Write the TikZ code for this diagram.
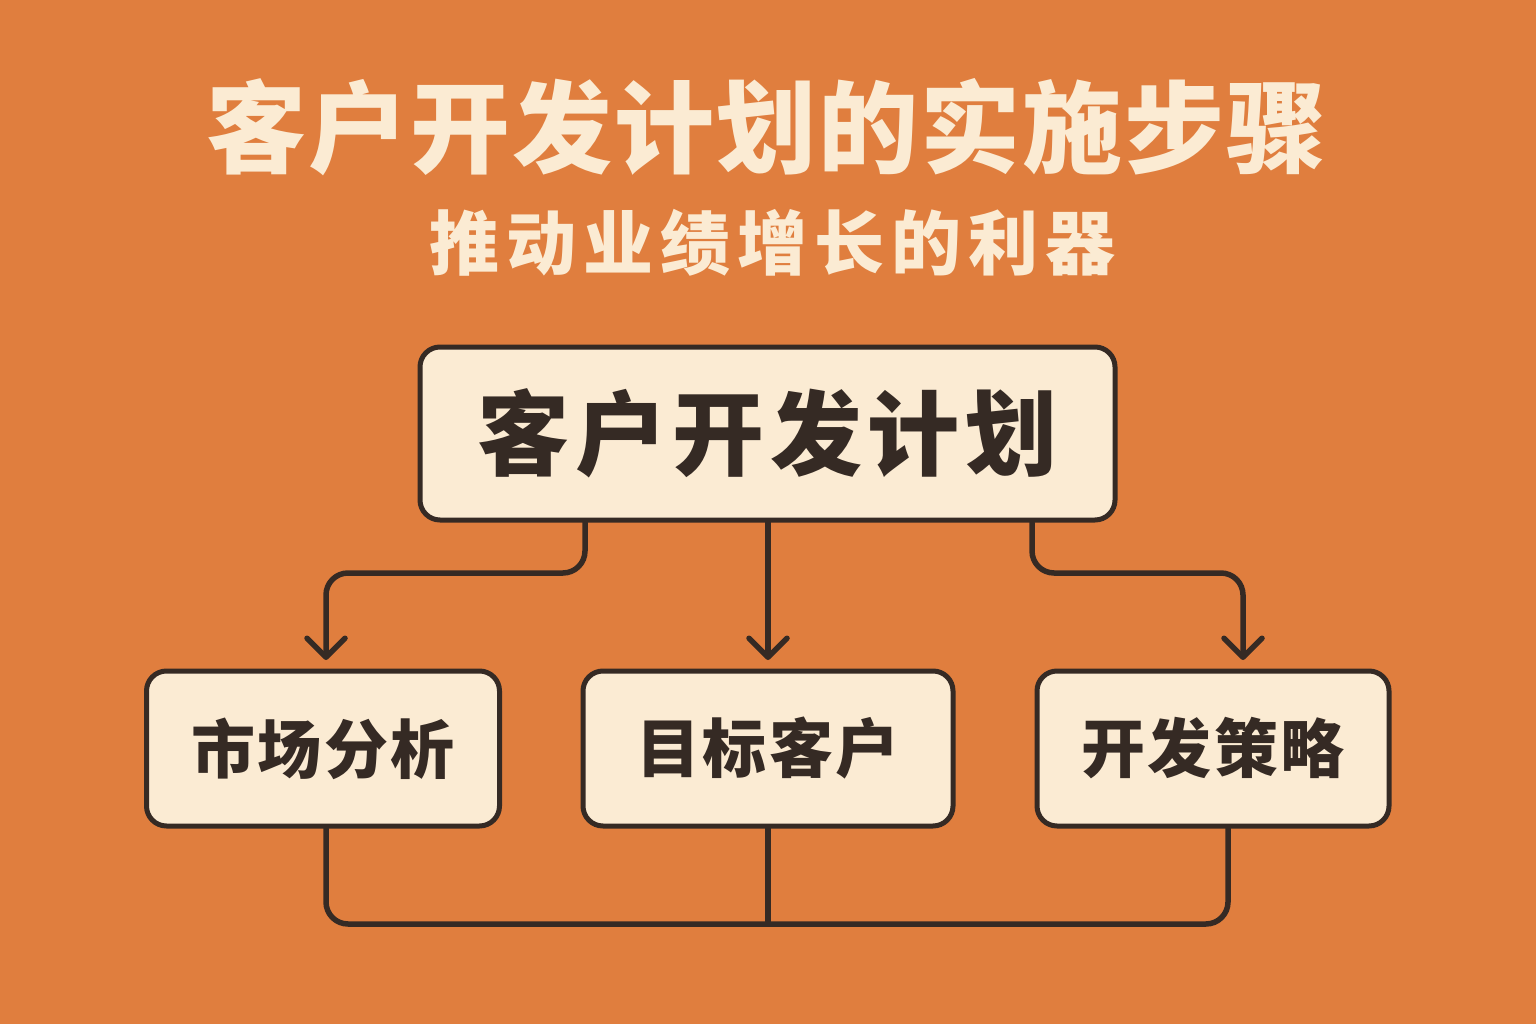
\documentclass[tikz,border=0pt]{standalone}
\usepackage{fontspec}
\usetikzlibrary{arrows.meta}
\newfontfamily\cjk{Noto Sans CJK SC}
\definecolor{bgorange}{HTML}{E07E3E}
\definecolor{cream}{HTML}{FBEBD3}
\definecolor{ink}{HTML}{352A24}
\tikzset{
  boxstyle/.style={draw=ink, fill=cream, line width=5pt, rounded corners=20pt, inner sep=0pt, text=ink, font=\cjk\bfseries},
  conn/.style={draw=ink, line width=5.5pt, line cap=round, line join=round, rounded corners=22pt},
  arrowconn/.style={conn, -{Straight Barb[length=19pt,width=38pt,line cap=round,line join=round]}},
}
\begin{document}
\begin{tikzpicture}[x=1pt,y=-1pt]
\fill[bgorange] (0,0) rectangle (1536,1024);
\useasboundingbox (0,0) rectangle (1536,1024);

\node[text=cream, font=\cjk\bfseries\fontsize{100}{110}\selectfont\addfontfeature{LetterSpace=2}] (title) at (766,127) {客户开发计划的实施步骤};
\node[text=cream, font=\cjk\bfseries\fontsize{70}{80}\selectfont\addfontfeature{LetterSpace=10}] (sub) at (772,243) {推动业绩增长的利器};

\node[boxstyle, minimum width=695pt, minimum height=173pt, font=\cjk\bfseries\fontsize{92}{100}\selectfont\addfontfeature{LetterSpace=6}] (top) at (767.5,433.5) {客户开发计划};

\node[boxstyle, minimum width=353pt, minimum height=155pt, font=\cjk\bfseries\fontsize{64}{72}\selectfont\addfontfeature{LetterSpace=4}] (b1) at (323,748.5) {市场分析};
\node[boxstyle, minimum width=370pt, minimum height=155pt, font=\cjk\bfseries\fontsize{64}{72}\selectfont\addfontfeature{LetterSpace=4}] (b2) at (768,748.5) {目标客户};
\node[boxstyle, minimum width=352pt, minimum height=155pt, font=\cjk\bfseries\fontsize{64}{72}\selectfont\addfontfeature{LetterSpace=4}] (b3) at (1213,748.5) {开发策略};

\coordinate (c1) at (585,573);
\coordinate (a1) at (326,660);
\coordinate (c3) at (1032,573);
\coordinate (a3) at (1243,660);
\coordinate (a2) at (768,660);
\coordinate (j1) at (326,924);
\coordinate (j3) at (1228,924);

\draw[arrowconn] (top.south -| c1) -- (c1) -- (c1 -| a1) -- (a1);
\draw[arrowconn] (top.south -| a2) -- (a2);
\draw[arrowconn] (top.south -| c3) -- (c3) -- (c3 -| a3) -- (a3);

\draw[conn] (b1.south -| j1) -- (j1) -- (j3) -- (b3.south -| j3);
\draw[conn, rounded corners=0pt] (b2.south) -- (b2.south |- j1);
\end{tikzpicture}
\end{document}
